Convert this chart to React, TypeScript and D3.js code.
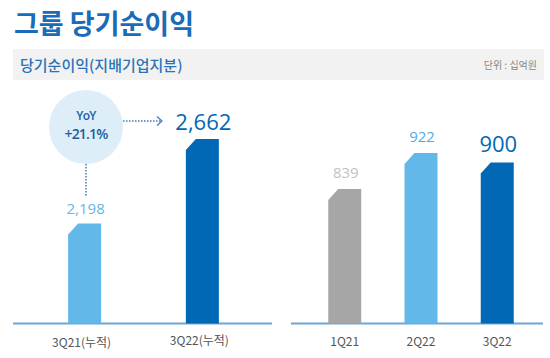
import { useEffect, useRef } from 'react';
import * as d3 from 'd3';

const cumCategories = ['3Q21(누적)', '3Q22(누적)'];
const cumValues = [2198, 2662];
const cumColors = ['#62b8e8', '#0068b5'];

const qCategories = ['1Q21', '2Q22', '3Q22'];
const qValues = [839, 922, 900];
const qColors = ['#a6a6a6', '#62b8e8', '#0068b5'];
const qLabelColors = ['#c2c2c2', '#4fabe3', '#0068b5'];

const yoyText = ['YoY', '+21.1%'];

const W = 550;
const H = 358;
const BASE = 323.5;
const KR = '"Noto Sans CJK KR", "Noto Sans", sans-serif';

// bar with the top-left corner cut off
function chamferBar(x0: number, x1: number, top: number) {
  const p = d3.path();
  p.moveTo(x0, BASE);
  p.lineTo(x0, top + 11);
  p.lineTo(x0 + 10, top);
  p.lineTo(x1, top);
  p.lineTo(x1, BASE);
  p.closePath();
  return p.toString();
}

export default function App() {
  const svgRef = useRef<SVGSVGElement>(null);

  useEffect(() => {
    if (!svgRef.current) return;
    const svg = d3.select(svgRef.current);
    svg.selectAll('*').remove();

    svg.append('rect').attr('width', W).attr('height', H).attr('fill', '#fff');

    // title
    svg.append('text')
      .attr('x', 14).attr('y', 34)
      .attr('font-family', KR).attr('font-size', 27).attr('font-weight', 700)
      .attr('fill', '#1a6bb8')
      .text('그룹 당기순이익');

    // subtitle band
    svg.append('rect')
      .attr('x', 13).attr('y', 49).attr('width', 531).attr('height', 31)
      .attr('fill', '#f2f2f2');
    svg.append('text')
      .attr('x', 20).attr('y', 71)
      .attr('font-family', KR).attr('font-size', 15).attr('font-weight', 500)
      .attr('fill', '#2a72b8')
      .text('당기순이익(지배기업지분)');
    svg.append('text')
      .attr('x', 537).attr('y', 69).attr('text-anchor', 'end')
      .attr('font-family', KR).attr('font-size', 10)
      .attr('fill', '#888')
      .text('단위 : 십억원');

    const barW = 33;

    // left panel: cumulative
    const xL = d3.scalePoint<string>().domain(cumCategories).range([14, 273]).padding(0.6);
    const yL = d3.scaleLinear().domain([1650, 2662]).range([BASE, 139]);

    svg.append('line')
      .attr('x1', 13).attr('x2', 272).attr('y1', BASE).attr('y2', BASE)
      .attr('stroke', '#6fa6d8').attr('stroke-width', 2);

    cumCategories.forEach((c, i) => {
      const cx = xL(c)!;
      const top = yL(cumValues[i]);
      svg.append('path')
        .attr('d', chamferBar(cx - barW / 2, cx + barW / 2, top))
        .attr('fill', cumColors[i]);
      svg.append('text')
        .attr('x', cx + 1).attr('y', top - (i === 1 ? 9 : 10))
        .attr('text-anchor', 'middle')
        .attr('font-family', '"Open Sans", sans-serif')
        .attr('font-size', i === 1 ? 22 : 15)
        .attr('fill', cumColors[i])
        .text(d3.format(',')(cumValues[i]));
      svg.append('text')
        .attr('x', cx - 3).attr('y', i === 1 ? 345 : 347)
        .attr('text-anchor', 'middle')
        .attr('font-family', KR).attr('font-size', 12)
        .attr('fill', '#555')
        .text(c);
    });

    // right panel: quarterly
    const xR = d3.scalePoint<string>().domain(qCategories).range([299, 543]).padding(0.6);
    const yR = d3.scaleLinear().domain([530, 922]).range([BASE, 153]);

    svg.append('line')
      .attr('x1', 291).attr('x2', 543).attr('y1', BASE).attr('y2', BASE)
      .attr('stroke', '#6fa6d8').attr('stroke-width', 2);

    qCategories.forEach((c, i) => {
      const cx = xR(c)!;
      const top = yR(qValues[i]);
      svg.append('path')
        .attr('d', chamferBar(cx - barW / 2, cx + barW / 2, top))
        .attr('fill', qColors[i]);
      svg.append('text')
        .attr('x', cx + 1).attr('y', top - 11)
        .attr('text-anchor', 'middle')
        .attr('font-family', '"Open Sans", sans-serif')
        .attr('font-size', i === 2 ? 22 : 15)
        .attr('fill', qLabelColors[i])
        .text(d3.format(',')(qValues[i]));
      svg.append('text')
        .attr('x', cx).attr('y', 346)
        .attr('text-anchor', 'middle')
        .attr('font-family', KR).attr('font-size', 12)
        .attr('fill', '#555')
        .text(c);
    });

    // YoY bubble
    const bx = 86;
    const by = 127;
    const r = 37;
    svg.append('circle').attr('cx', bx).attr('cy', by).attr('r', r).attr('fill', '#ddeef8');
    svg.append('text')
      .attr('x', bx).attr('y', by - 7).attr('text-anchor', 'middle')
      .attr('font-family', '"Open Sans", sans-serif').attr('font-size', 12).attr('font-weight', 600)
      .attr('fill', '#1a5fa0').attr('letter-spacing', -0.6)
      .text(yoyText[0]);
    svg.append('text')
      .attr('x', bx).attr('y', by + 12).attr('text-anchor', 'middle')
      .attr('font-family', '"Open Sans", sans-serif').attr('font-size', 14).attr('font-weight', 600)
      .attr('fill', '#1a5fa0').attr('letter-spacing', -0.8)
      .text(yoyText[1]);

    const dotted = { stroke: '#3a7bbf', width: 1.5, dash: '1.5,1.5' };
    svg.append('line')
      .attr('x1', bx + r).attr('x2', 161).attr('y1', 121).attr('y2', 121)
      .attr('stroke', dotted.stroke).attr('stroke-width', dotted.width)
      .attr('stroke-dasharray', dotted.dash);
    svg.append('path')
      .attr('d', 'M157,116.5 L162,121 L157,125.5')
      .attr('fill', 'none').attr('stroke', dotted.stroke).attr('stroke-width', 1.2);
    svg.append('line')
      .attr('x1', bx).attr('x2', bx).attr('y1', by + r).attr('y2', yL(cumValues[0]) - 28)
      .attr('stroke', dotted.stroke).attr('stroke-width', dotted.width)
      .attr('stroke-dasharray', dotted.dash);
  }, []);

  return (
    <svg
      ref={svgRef}
      width={W}
      height={H}
      style={{ position: 'absolute', left: 0, top: 0, display: 'block' }}
    />
  );
}
